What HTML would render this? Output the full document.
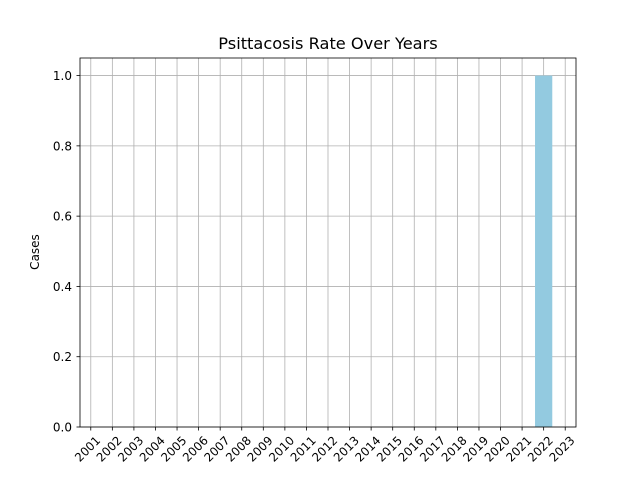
<!DOCTYPE html>
<html><head><meta charset="utf-8"><style>
body{margin:0;background:#fff}
svg{display:block;font-family:"DejaVu Sans","Liberation Sans",sans-serif}
</style></head><body>
<svg id="chart" width="640" height="480">
<rect width="640" height="480" fill="#fff"/>
<text x="328" y="49" text-anchor="middle" font-size="16.2">Psittacosis Rate Over Years</text>
<g id="grid"></g><g id="bars"></g><g id="axes"></g>
<text transform="translate(39,252) rotate(-90)" text-anchor="middle" font-size="12">Cases</text>
<text x="318" y="489" text-anchor="middle" font-size="12">Year</text>
</svg>
<script>
const years=["2001","2002","2003","2004","2005","2006","2007","2008","2009","2010","2011","2012","2013","2014","2015","2016","2017","2018","2019","2020","2021","2022","2023"];
const cases=[0,0,0,0,0,0,0,0,0,0,0,0,0,0,0,0,0,0,0,0,0,1,0];
const yTicks=[0,0.2,0.4,0.6,0.8,1.0];
const yTickLabels=["0.0","0.2","0.4","0.6","0.8","1.0"];
const NS="http://www.w3.org/2000/svg";
const L=80,R=576,T=58,B=427,ymax=1.05;
const step=(R-L)/years.length;
const xs=i=>L+(i+0.5)*step;
const ys=v=>B-(v/ymax)*(B-T);
function mk(tag,attrs,parent,text){const e=document.createElementNS(NS,tag);for(const k in attrs)e.setAttribute(k,attrs[k]);if(text!==undefined)e.textContent=text;parent.appendChild(e);return e;}
const grid=document.getElementById('grid'),bars=document.getElementById('bars'),axes=document.getElementById('axes');
years.forEach((y,i)=>{
 const x=xs(i);
 const g=mk('line',{x1:x,x2:x,y1:T,y2:B,stroke:'#b0b0b0','stroke-width':0.8},grid);
 
 
 const t=mk('line',{x1:x,x2:x,y1:B,y2:B+3.5,stroke:'#000','stroke-width':0.8},axes);
 
 
 const lb=mk('text',{transform:`translate(${x+4},${B+8}) rotate(-45)`,'text-anchor':'end','dominant-baseline':'hanging','font-size':11.8},axes,y);
 
 
});
yTicks.forEach((v,i)=>{
 const y=ys(v);
 const g=mk('line',{x1:L,x2:R,y1:y,y2:y,stroke:'#b0b0b0','stroke-width':0.8},grid);
 
 
 const t=mk('line',{x1:L-3.5,x2:L,y1:y,y2:y,stroke:'#000','stroke-width':0.8},axes);
 
 
 const lb=mk('text',{x:L-8,y:y+4.5,'text-anchor':'end','font-size':12},axes,yTickLabels[i]);
 
 
});
cases.forEach((v,i)=>{
 if(v<=0)return;
 const w=step*0.8;
 const r=mk('rect',{x:xs(i)-w/2,y:ys(v),width:w,height:B-ys(v),fill:'#93cae0'},bars);
 
 
});
const f=mk('rect',{x:L,y:T,width:R-L,height:B-T,fill:'none',stroke:'#000','stroke-width':0.8},axes);


</script>
</body></html>
